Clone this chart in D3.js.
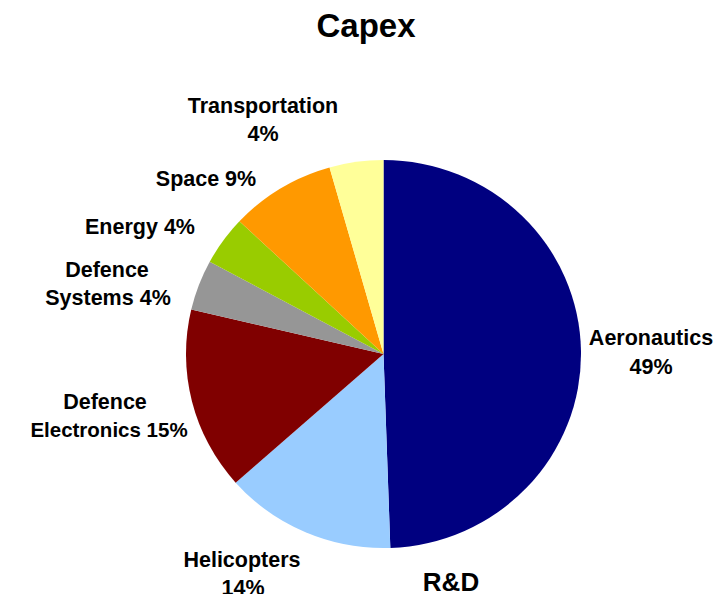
<!DOCTYPE html>
<html>
<head>
<meta charset="utf-8">
<script src="https://cdn.jsdelivr.net/npm/d3@7"></script>
<style>
html,body{margin:0;padding:0;background:#fff;}
svg{display:block;}
text{font-family:"Liberation Sans",Arial,sans-serif;font-weight:bold;fill:#000;}
</style>
</head>
<body>
<svg id="chart" width="720" height="594"></svg>
<script>
// Data
const categories = ["Aeronautics","Helicopters","Defence Electronics","Defence Systems","Energy","Space","Transportation"];
const shares = [49.4, 14.0, 15.2, 4.2, 4.1, 8.6, 4.4];
const colors = ["#000080","#99CCFF","#800000","#969696","#99CC00","#FF9900","#FFFF99"];
const title = "Capex";
const footer = "R&D";

// Label layout (text lines and anchor points), not data
const labelLayout = [
  {lines:["Aeronautics","{p}"], x:[651,651], y:[345,374]},
  {lines:["Helicopters","{p}"], x:[242,243], y:[567,595]},
  {lines:["Defence","Electronics {p}"], x:[105,109], y:[409,437]},
  {lines:["Defence","Systems {p}"], x:[107,108], y:[277,305]},
  {lines:["Energy {p}"], x:[140], y:[234]},
  {lines:["Space {p}"], x:[206], y:[186]},
  {lines:["Transportation","{p}"], x:[263,263], y:[113,141]}
];

const svg = d3.select("#chart");
const cx = 383.5, cy = 354, rx = 197.5, ry = 194;

svg.append("text").attr("x",366).attr("y",37).attr("text-anchor","middle")
  .style("font-size","33px").text(title);

const pie = d3.pie().sort(null).value(d => d.v);
const data = categories.map((c,i) => ({c, v: shares[i], col: colors[i], i}));
const arcs = pie(data);
const arc = d3.arc().innerRadius(0).outerRadius(rx);

const g = svg.append("g").attr("transform",`translate(${cx},${cy}) scale(1,${ry/rx})`);
g.selectAll("path").data(arcs).join("path")
  .attr("d", arc).attr("fill", d => d.data.col);

arcs.forEach((a, i) => {
  const L = labelLayout[i];
  L.lines.forEach((ln, j) => {
    const t = svg.append("text").attr("x", L.x[j]).attr("y", L.y[j])
      .attr("text-anchor","middle").style("font-size","21.5px")
      .text(ln.replace("{p}", Math.round(a.data.v) + "%"));
    if (ln.startsWith("Electronics")) t.style("font-size","20.5px");
  });
});

svg.append("text").attr("x",451).attr("y",591).attr("text-anchor","middle")
  .style("font-size","26px").text(footer);
</script>
</body>
</html>
